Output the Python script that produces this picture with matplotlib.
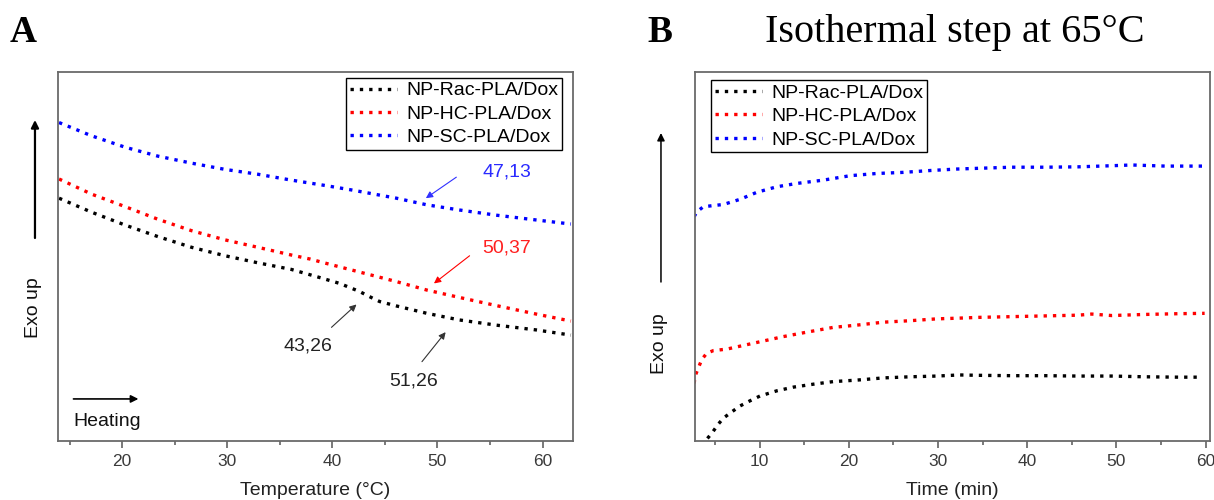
import matplotlib
matplotlib.use("Agg")
import matplotlib.pyplot as plt

plt.rcParams['font.family'] = ['Liberation Sans', 'DejaVu Sans']

# ---------------- Panel A data (heating ramp) ----------------
temp_rac = [14.0, 17.1, 20.3, 23.4, 26.6, 29.8, 32.9, 36.1, 38.8, 40.7, 42.6, 43.7, 44.5, 46.1, 49.0, 52.1, 55.6, 59.4, 62.7]
flow_rac = [65.8, 62.0, 58.5, 55.4, 52.5, 50.2, 48.3, 46.5, 44.3, 42.7, 40.5, 38.9, 37.8, 36.6, 34.6, 32.8, 31.4, 30.1, 28.7]

temp_hc = [14.0, 17.1, 20.3, 23.4, 26.6, 29.8, 32.9, 36.1, 37.9, 39.2, 41.9, 46.1, 49.0, 52.1, 55.6, 59.4, 62.7]
flow_hc = [71.0, 66.9, 63.5, 60.1, 57.0, 54.5, 52.5, 50.4, 49.3, 48.3, 46.3, 43.2, 40.9, 38.9, 36.7, 34.4, 32.5]

temp_sc = [14.0, 17.1, 20.3, 23.4, 26.6, 29.8, 32.9, 36.1, 39.2, 41.9, 46.1, 49.0, 52.1, 55.6, 59.4, 62.7]
flow_sc = [86.3, 82.7, 79.6, 77.2, 75.3, 73.6, 72.3, 70.7, 69.3, 68.0, 65.8, 64.0, 62.6, 61.2, 59.9, 58.8]

# ---------------- Panel B data (isothermal at 65 C) ----------------
time_rac = [4.15, 4.64, 5.38, 5.94, 6.88, 7.81, 8.93, 10.05, 11.93, 13.79, 16.03, 18.27, 20.90, 23.88,
            26.87, 29.87, 32.40, 34.53, 38.27, 42.0, 45.74, 49.48, 53.22, 56.95, 59.38]
iso_rac = [0.7, 2.1, 4.6, 6.2, 7.9, 9.5, 10.9, 12.2, 13.6, 14.6, 15.4, 16.1, 16.5, 17.1,
           17.4, 17.6, 17.9, 17.8, 17.7, 17.7, 17.6, 17.6, 17.4, 17.3, 17.3]

time_hc = [2.66, 2.77, 3.03, 3.52, 4.08, 4.82, 6.32, 7.81, 10.05, 12.67, 15.29, 18.27, 20.90, 23.88,
           26.87, 29.87, 32.40, 34.53, 38.27, 42.0, 45.74, 47.24, 49.48, 53.22, 56.95, 59.9]
iso_hc = [15.6, 17.6, 19.2, 22.1, 23.8, 24.5, 24.9, 25.7, 26.9, 28.3, 29.5, 30.8, 31.4, 32.2,
          32.6, 33.1, 33.3, 33.5, 33.7, 33.9, 34.1, 34.4, 34.0, 34.3, 34.5, 34.6]

time_sc = [2.66, 2.96, 3.70, 5.94, 7.81, 9.69, 11.93, 14.17, 17.15, 20.15, 23.14, 26.12, 29.11, 32.11,
           34.53, 38.27, 42.0, 45.74, 49.48, 51.73, 55.46, 60.0]
iso_sc = [60.8, 62.1, 63.5, 64.1, 65.5, 67.4, 68.9, 69.8, 70.7, 71.9, 72.5, 72.8, 73.3, 73.7,
          73.9, 74.2, 74.2, 74.3, 74.6, 74.8, 74.5, 74.5]

labels = ["NP-Rac-PLA/Dox", "NP-HC-PLA/Dox", "NP-SC-PLA/Dox"]
colors = ["#000000", "#ff0000", "#0000ff"]

xticks_a = [20, 30, 40, 50, 60]
xticks_b = [10, 20, 30, 40, 50, 60]

W, H = 1214, 500
fig = plt.figure(figsize=(W / 100, H / 100), dpi=100)

axA = fig.add_axes([58 / W, 1 - 441 / H, 515 / W, 369 / H])
axB = fig.add_axes([694.5 / W, 1 - 441 / H, 515.5 / W, 369 / H])

dot = (0, (1, 1.8))
lw = 2.4

for ax in (axA, axB):
    for s in ax.spines.values():
        s.set_color('#6a6a6a')
        s.set_linewidth(1.3)
    ax.set_yticks([])
    ax.set_ylim(0, 100)
    ax.tick_params(axis='x', which='major', direction='out', length=5, width=1.1,
                   color='#555555', labelsize=12.5, labelcolor='#3a3a3a', pad=4)
    ax.tick_params(axis='x', which='minor', direction='out', length=3, width=1.1, color='#555555')

# Panel A
axA.plot(temp_rac, flow_rac, linestyle=dot, lw=lw, color=colors[0], label=labels[0])
axA.plot(temp_hc, flow_hc, linestyle=dot, lw=lw, color=colors[1], label=labels[1])
axA.plot(temp_sc, flow_sc, linestyle=dot, lw=lw, color=colors[2], label=labels[2])
axA.set_xlim(13.9, 62.9)
axA.set_xticks(xticks_a)
axA.set_xticks([15, 25, 35, 45, 55], minor=True)
axA.set_xlabel("Temperature (°C)", fontsize=14, color='#222222', labelpad=10)

# Panel B
axB.plot(time_rac, iso_rac, linestyle=dot, lw=lw, color=colors[0], label=labels[0])
axB.plot(time_hc, iso_hc, linestyle=dot, lw=lw, color=colors[1], label=labels[1])
axB.plot(time_sc, iso_sc, linestyle=dot, lw=lw, color=colors[2], label=labels[2])
axB.set_xlim(2.7, 60.5)
axB.set_xticks(xticks_b)
axB.set_xticks([5, 15, 25, 35, 45, 55], minor=True)
axB.set_xlabel("Time (min)", fontsize=14, color='#222222', labelpad=10)

legkw = dict(fontsize=14, frameon=True, fancybox=False, framealpha=1, edgecolor='black',
             handlelength=2.4, handletextpad=0.5, labelspacing=0.3, borderpad=0.2,
             borderaxespad=0.0)
legA = axA.legend(loc='upper right', bbox_to_anchor=(0.979, 0.984), **legkw)
legB = axB.legend(loc='upper left', bbox_to_anchor=(0.032, 0.978), **legkw)
for leg in (legA, legB):
    leg.get_frame().set_linewidth(1.0)

# Annotations on panel A
ann = [("47,13", (56.6, 72.9), (51.8, 71.5), (48.9, 65.8), "#2a2aff", "#3030ff"),
       ("50,37", (56.6, 52.3), (53.06, 50.2), (49.67, 42.7), "#ff2020", "#ff0000"),
       ("43,26", (37.64, 25.7), (39.92, 30.8), (42.3, 37.0), "#222222", "#333333"),
       ("51,26", (47.7, 16.3), (48.53, 21.5), (50.78, 29.5), "#222222", "#333333")]
for txt, tpos, a0, a1, tc, ac in ann:
    axA.text(tpos[0], tpos[1], txt, color=tc, fontsize=14, ha='center', va='center')
    axA.annotate("", xy=a1, xytext=a0,
                 arrowprops=dict(arrowstyle='-|>', color=ac, lw=0.8,
                                 mutation_scale=10, shrinkA=0, shrinkB=0))

# Heating arrow
axA.annotate("", xy=(21.55, 11.4), xytext=(15.37, 11.4),
             arrowprops=dict(arrowstyle='-|>', color='black', lw=1.2,
                             mutation_scale=11, shrinkA=0, shrinkB=0))
axA.text(15.37, 5.4, "Heating", fontsize=14, ha='left', va='center', color='#111111')

# Exo up labels and arrows (figure pixel coordinates)
for xpix, ytext, ytail, yhead in [(34, 308, 238, 120), (660, 344, 282, 133)]:
    fig.text(xpix / W, 1 - ytext / H, "Exo up", rotation=90, fontsize=14,
             ha='center', va='center', color='#111111')
    fig.add_artist(matplotlib.patches.FancyArrowPatch(
        (xpix / W + 0.0008, 1 - ytail / H), (xpix / W + 0.0008, 1 - yhead / H),
        transform=fig.transFigure, arrowstyle='-|>', mutation_scale=11,
        color='black', lw=1.6 if xpix < 100 else 1.1, shrinkA=0, shrinkB=0))

# Panel letters and title
fig.text(10 / W, 1 - 42 / H, "A", fontsize=27, fontweight='bold',
         family=['Liberation Serif', 'DejaVu Serif'], ha='left', va='baseline')
fig.text(647 / W, 1 - 42 / H, "B", fontsize=27, fontweight='bold',
         family=['Liberation Serif', 'DejaVu Serif'], ha='left', va='baseline')
fig.text(955 / W, 1 - 42 / H, "Isothermal step at 65°C", fontsize=29,
         family=['Liberation Serif', 'DejaVu Serif'], ha='center', va='baseline')

fig.savefig("out.png", dpi=100)
